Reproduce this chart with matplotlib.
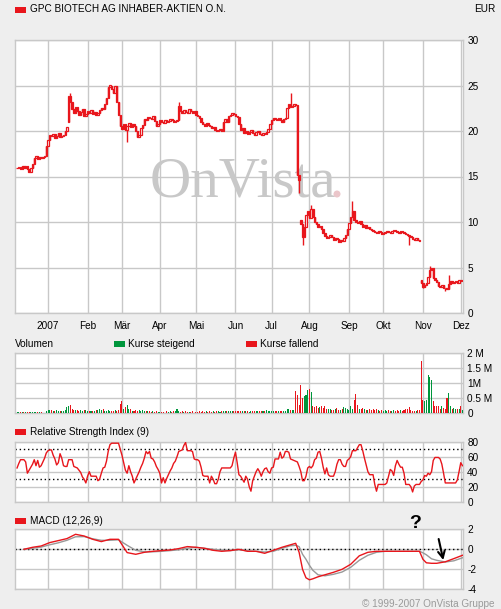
import numpy as np
import pandas as pd
import matplotlib
matplotlib.use("Agg")
import matplotlib.pyplot as plt
from matplotlib.patches import Rectangle, Ellipse

# =========================
# DATA
# =========================
# daily closes, EUR (Dec 2006 - Dec 2007)
close = [
    15.9, 16.0, 15.8, 16.1, 15.9, 16.2, 15.8, 15.5, 15.9,
    16.4, 17.0, 17.2, 16.9, 17.1, 17.0,
    17.1, 17.2,
    18.4, 19.0,
    19.6, 19.4, 19.7, 19.2, 19.5, 19.8, 19.3, 19.5, 19.6,
    20.0, 20.4,
    23.8, 23.2,
    22.4, 22.0, 22.6, 22.2, 21.8, 22.1, 22.4, 21.6, 21.9, 22.2,
    22.0, 22.3, 21.9, 22.1, 21.8, 22.0, 22.3, 22.5, 22.4,
    23.0, 23.6,
    24.8, 25.0, 24.6, 24.2, 24.9,
    23.2, 21.8, 20.6,
    20.2, 20.8, 20.1,
    20.6, 20.9, 20.4, 20.8, 20.5, 20.0, 19.3, 19.6, 20.3, 20.7,
    21.3, 21.2, 21.5, 21.4, 21.3, 21.6, 21.1, 20.5, 20.8, 21.2,
    21.0, 20.9, 21.2, 21.0, 21.1, 21.3, 21.2, 21.0, 21.1, 21.2,
    22.8, 22.2, 22.0, 22.3, 22.1, 22.0, 22.4, 22.2, 22.0, 22.2, 21.8, 21.6,
    21.4, 21.0, 20.8, 20.6, 20.9, 20.7, 20.5, 20.3, 20.4, 20.1, 20.0,
    20.1, 20.2, 20.0,
    21.0, 21.3, 21.0, 21.6, 21.8, 22.0, 21.9, 21.7, 21.5,
    20.8, 20.1, 20.3,
    19.8, 20.0, 19.7, 19.9, 20.1, 19.8, 19.6, 19.9, 20.0, 19.7,
    19.6, 19.8, 19.7, 19.9,
    20.2, 20.8, 21.2, 21.4,
    21.3, 21.2, 21.4, 21.2, 21.0, 21.3, 21.4,
    22.5, 23.0, 22.6, 22.8,
    23.0, 22.9, 15.2,
    14.6,
    9.8, 8.4,
    9.5, 10.8, 11.2, 10.4, 11.4, 10.6,
    10.0, 9.8, 9.4, 9.6, 9.2,
    8.8, 8.5, 8.2, 8.3, 8.6, 8.4,
    8.0, 8.2, 8.1, 7.8, 8.0, 7.9,
    8.2, 8.6, 9.2, 9.9, 10.6, 11.2,
    10.2, 10.0, 9.9, 10.1, 9.8, 9.5, 9.7, 9.3, 9.5, 9.2,
    9.1, 9.0, 8.9, 8.8, 9.0, 8.9, 8.7, 8.8, 8.9, 9.0, 8.9, 8.8,
    9.0, 9.1, 9.0, 8.9, 8.8, 9.0, 8.9, 8.8, 8.7, 8.6, 8.5,
    8.3, 8.1, 8.0, 8.2, 8.0, 7.9,
    3.3, 2.9, 3.1, 3.3,
    4.0, 4.7, 5.0,
    3.9, 3.6, 3.4,
    3.0, 2.9, 3.1, 2.8, 2.7, 2.6,
    3.2, 3.5, 3.3,
    3.4, 3.5, 3.3, 3.6, 3.5, 3.6,
]
# opening gaps (otherwise open = previous close)
gap_open = {30: 21.0, 165: 10.2, 235: 3.6}
# notable wicks
wick_hi = {31: 24.2, 53: 24.0, 94: 23.2, 159: 24.2, 171: 11.9, 195: 12.3, 240: 5.2, 251: 4.2}
wick_lo = {64: 18.8, 164: 13.2, 166: 7.5, 228: 7.5, 236: 2.7, 249: 2.4}

# volume in millions
volume = [
    0.03, 0.03, 0.02, 0.04, 0.03, 0.02, 0.03, 0.04, 0.02, 0.03,
    0.03, 0.04, 0.02, 0.05, 0.03, 0.00, 0.00, 0.06, 0.11, 0.09,
    0.09, 0.07, 0.07, 0.11, 0.07, 0.07, 0.07, 0.06, 0.09, 0.19,
    0.24, 0.28, 0.13, 0.11, 0.11, 0.11, 0.06, 0.11, 0.06, 0.09,
    0.09, 0.07, 0.07, 0.07, 0.07, 0.07, 0.09, 0.09, 0.15, 0.11,
    0.13, 0.08, 0.07, 0.09, 0.07, 0.07, 0.06, 0.09, 0.07, 0.09,
    0.30, 0.39, 0.13, 0.20, 0.27, 0.13, 0.13, 0.08, 0.08, 0.10,
    0.07, 0.09, 0.08, 0.10, 0.07, 0.08, 0.06, 0.07, 0.05, 0.06,
    0.05, 0.06, 0.04, 0.05, 0.04, 0.05, 0.00, 0.06, 0.04, 0.06,
    0.05, 0.07, 0.06, 0.12, 0.07, 0.05, 0.06, 0.05, 0.06, 0.05,
    0.04, 0.05, 0.06, 0.00, 0.05, 0.05, 0.06, 0.05, 0.06, 0.05,
    0.06, 0.05, 0.07, 0.05, 0.06, 0.05, 0.08, 0.06, 0.05, 0.06,
    0.06, 0.07, 0.06, 0.08, 0.07, 0.06, 0.06, 0.07, 0.06, 0.07,
    0.06, 0.08, 0.06, 0.07, 0.06, 0.05, 0.06, 0.07, 0.08, 0.06,
    0.07, 0.06, 0.08, 0.06, 0.07, 0.09, 0.06, 0.07, 0.08, 0.07,
    0.06, 0.07, 0.06, 0.07, 0.08, 0.07, 0.08, 0.12, 0.13, 0.10,
    0.10, 0.10, 0.72, 0.60, 0.28, 0.94, 0.50, 0.58, 0.60, 0.78,
    0.80, 0.70, 0.25, 0.20, 0.22, 0.18, 0.20, 0.22, 0.17, 0.23,
    0.12, 0.12, 0.12, 0.10, 0.10, 0.12, 0.16, 0.10, 0.10, 0.12,
    0.20, 0.18, 0.13, 0.10, 0.24, 0.12, 0.44, 0.64, 0.28, 0.12,
    0.12, 0.18, 0.12, 0.10, 0.10, 0.13, 0.10, 0.14, 0.10, 0.12,
    0.10, 0.08, 0.10, 0.07, 0.09, 0.08, 0.10, 0.07, 0.08, 0.09,
    0.07, 0.09, 0.08, 0.10, 0.07, 0.10, 0.12, 0.12, 0.20, 0.09,
    0.07, 0.08, 0.08, 0.09, 0.10, 1.74, 0.44, 0.41, 0.44, 1.28,
    1.21, 1.10, 0.41, 0.25, 0.25, 0.25, 0.12, 0.25, 0.17, 0.15,
    0.50, 0.68, 0.22, 0.15, 0.18, 0.12, 0.12, 0.12, 0.22, 0.10,
]

rsi = [
    45, 51, 56, 56, 56, 53, 38, 42, 46, 50,
    56, 48, 55, 46, 48, 53, 58, 65, 68, 69,
    69, 62, 57, 49, 52, 64, 58, 48, 47, 47,
    56, 56, 56, 47, 46, 45, 42, 39, 33, 30,
    25, 34, 40, 34, 34, 34, 34, 28, 30, 38,
    45, 46, 54, 67, 76, 78, 78, 78, 78, 78,
    70, 62, 52, 42, 38, 48, 40, 34, 25, 30,
    35, 40, 46, 51, 58, 67, 64, 67, 58, 57,
    53, 47, 43, 38, 25, 32, 25, 31, 36, 41,
    45, 51, 54, 60, 67, 68, 69, 75, 79, 68,
    68, 68, 67, 57, 56, 56, 54, 46, 35, 34,
    34, 34, 25, 34, 30, 24, 24, 30, 40, 45,
    45, 45, 45, 45, 45, 48, 58, 66, 52, 36,
    34, 30, 26, 34, 30, 20, 14, 28, 34, 40,
    44, 40, 34, 40, 44, 45, 40, 38, 45, 46,
    57, 57, 57, 66, 58, 60, 67, 67, 66, 57,
    56, 55, 54, 53, 47, 40, 28, 28, 34, 45,
    47, 45, 48, 56, 58, 66, 67, 58, 46, 37,
    45, 36, 34, 34, 34, 40, 50, 56, 56, 50,
    47, 47, 55, 57, 60, 68, 68, 68, 72, 76,
    76, 68, 58, 49, 40, 36, 36, 36, 23, 14,
    23, 23, 23, 23, 23, 25, 34, 43, 41, 35,
    48, 55, 50, 46, 46, 38, 23, 23, 23, 20,
    13, 21, 23, 23, 23, 27, 29, 35, 34, 38,
    36, 40, 55, 59, 59, 59, 57, 50, 38, 25,
    25, 25, 25, 25, 25, 25, 29, 40, 52, 48,
]

macd_day = [4, 9, 14, 19, 24, 29, 34, 39, 44, 49, 54, 59, 64, 69, 74, 79, 84, 89, 94, 99,
            104, 109, 114, 119, 124, 129, 134, 139, 144, 149, 154, 159, 162, 164, 166, 168,
            170, 172, 175, 179, 184, 189, 194, 199, 204, 209, 214, 219, 224, 229, 234, 236,
            238, 241, 244, 249, 254, 259]
macd = [0.0, 0.2, 0.33, 0.67, 0.87, 1.07, 1.5, 1.33, 1.0, 0.77, 1.0, 1.0, -0.33, -0.5, -0.3,
        -0.2, -0.13, -0.07, 0.07, 0.27, 0.2, 0.1, -0.1, -0.2, -0.13, 0.0, -0.2, -0.2, -0.4,
        -0.1, 0.2, 0.45, 0.6, -0.3, -2.0, -2.85, -3.05, -2.95, -2.75, -2.55, -2.3, -2.0, -1.5,
        -0.65, -0.3, -0.2, -0.2, -0.2, -0.2, -0.2, -0.2, -1.0, -1.35, -1.4, -1.4, -1.25,
        -0.93, -0.6]
signal = [0.0, 0.1, 0.22, 0.45, 0.65, 0.9, 1.25, 1.27, 1.05, 0.9, 0.9, 0.95, 0.4, -0.1, -0.25,
          -0.25, -0.2, -0.13, -0.05, 0.1, 0.2, 0.1, 0.0, -0.1, -0.13, -0.05, -0.15, -0.2, -0.27,
          -0.2, 0.1, 0.35, 0.4, 0.27, -0.5, -1.0, -1.6, -2.1, -2.55, -2.65, -2.5, -2.27, -1.8,
          -1.1, -0.6, -0.3, -0.2, -0.2, -0.2, -0.2, -0.2, -0.35, -0.55, -0.95, -1.1, -1.27,
          -1.15, -0.85]

month_labels = ["2007", "Feb", "Mär", "Apr", "Mai", "Jun", "Jul", "Aug", "Sep", "Okt", "Nov", "Dez"]
price_ticks = [0, 5, 10, 15, 20, 25, 30]
vol_ticks = [0, 0.5, 1, 1.5, 2]
vol_tick_labels = ["0", "0.5 M", "1M", "1.5 M", "2 M"]

# =========================
# PREP
# =========================
RED = "#E8161C"
GREEN = "#00963C"
GRID = "#C8C8C8"
BG = "#EEEEEE"
W, H = 501, 609
FS = 7.2

plt.rcParams["font.family"] = ["Liberation Sans", "DejaVu Sans"]
plt.rcParams["axes.unicode_minus"] = False

n = len(close)
dates = pd.bdate_range(end="2007-12-04", periods=n)
days = np.arange(n)
month_pos = [i for i in range(1, n) if dates[i].month != dates[i - 1].month]

close = np.array(close)
opens = np.r_[close[0], close[:-1]]
for k, v in gap_open.items():
    opens[k] = v
up = close >= opens
body_lo = np.minimum(opens, close)
body_hi = np.maximum(opens, close)
lo = body_lo.copy()
hi = body_hi.copy()
for k, v in wick_hi.items():
    hi[k] = max(hi[k], v)
for k, v in wick_lo.items():
    lo[k] = min(lo[k], v)


def box(y_top, y_bot):
    # figure-fraction rectangle from pixel rows
    return [15 / W, 1 - y_bot / H, 448 / W, (y_bot - y_top) / H]


def style(ax):
    ax.set_facecolor("white")
    for s in ax.spines.values():
        s.set_color(GRID)
        s.set_linewidth(1)
    ax.yaxis.tick_right()
    ax.tick_params(length=0, labelsize=FS, pad=3)
    ax.set_xlim(-1.2, 259.3)
    ax.set_xticks(month_pos)
    ax.grid(True, color=GRID, lw=1)
    ax.set_axisbelow(True)


def px(x, y):
    return x / W, 1 - y / H


fig = plt.figure(figsize=(W / 100, H / 100), dpi=100, facecolor=BG)

# =========================
# PRICE
# =========================
ax = fig.add_axes(box(40, 313))
style(ax)
ax.vlines(days, lo, hi, color=RED, lw=1, zorder=2)
ax.bar(days, body_hi - body_lo, bottom=body_lo, width=0.8,
       color=np.where(up, "white", RED), edgecolor=RED, linewidth=0.9, zorder=3)
ax.set_ylim(0, 30)
ax.set_yticks(price_ticks)
ax.set_xticklabels(month_labels)
ax.tick_params(axis="x", pad=6)
# watermark
ax.text(150 / W, 1 - 197 / H, "OnVista", transform=fig.transFigure, family="Liberation Serif",
        fontsize=41, color="#C8C8C8", ha="left", va="baseline", zorder=1)
ax.add_artist(Ellipse(px(337, 194), 7 / W, 7 / H, transform=fig.transFigure,
                      color="#EBC6CA", lw=0, zorder=1))

# =========================
# VOLUME
# =========================
axv = fig.add_axes(box(353, 413))
style(axv)
axv.bar(days, volume, width=0.6, color=np.where(up, GREEN, RED), zorder=3)
axv.set_ylim(0, 2)
axv.set_yticks(vol_ticks)
axv.set_yticklabels(vol_tick_labels)
axv.set_xticklabels([])

# =========================
# RSI
# =========================
axr = fig.add_axes(box(441.7, 501.7))
style(axr)
axr.plot(days, rsi, color=RED, lw=1, zorder=3)
axr.set_ylim(0, 80)
axr.set_yticks([0, 20, 40, 60, 80])
for lvl in (30, 70):
    axr.axhline(lvl, color="black", lw=1, ls=(0, (1, 2)), zorder=2)
axr.set_xticklabels([])

# =========================
# MACD
# =========================
axm = fig.add_axes(box(529.3, 589.3))
style(axm)
axm.plot(macd_day, signal, color="#999999", lw=1, zorder=3)
axm.plot(macd_day, macd, color=RED, lw=1, zorder=4)
axm.axhline(0, color="black", lw=1, ls=(0, (1, 2)), zorder=2)
axm.set_ylim(-4, 2)
axm.set_yticks([-4, -2, 0, 2])
axm.set_xticklabels([])
# hand-drawn marks
axm.text(231.5, 2.6, "?", fontsize=14, fontweight="bold", ha="center", va="center",
         color="black", clip_on=False)
axm.annotate("", xy=(248.2, -1.35), xytext=(244.8, 1.3),
             arrowprops=dict(arrowstyle="->", color="black", lw=1.5, mutation_scale=12),
             annotation_clip=False)

# =========================
# TITLES / LEGENDS
# =========================
def swatch(x, y, color):
    fig.add_artist(Rectangle(px(x, y + 3), 11 / W, 6 / H, transform=fig.transFigure,
                             color=color, lw=0))


swatch(15, 9.5, RED)
fig.text(*px(30, 9.5), "GPC BIOTECH AG INHABER-AKTIEN O.N.", fontsize=FS, va="center")
fig.text(*px(495, 9.5), "EUR", fontsize=FS, va="center", ha="right")

fig.text(*px(15, 344), "Volumen", fontsize=FS, va="center")
swatch(114, 344, GREEN)
fig.text(*px(128, 344), "Kurse steigend", fontsize=FS, va="center")
swatch(246, 344, RED)
fig.text(*px(260, 344), "Kurse fallend", fontsize=FS, va="center")

swatch(15, 432, RED)
fig.text(*px(30, 432), "Relative Strength Index (9)", fontsize=FS, va="center")
swatch(15, 521, RED)
fig.text(*px(30, 521), "MACD (12,26,9)", fontsize=FS, va="center")

fig.text(*px(495, 604), "© 1999-2007 OnVista Gruppe", fontsize=FS, va="center", ha="right",
         color="#9A9A9A")

fig.savefig("out.png", dpi=100, facecolor=BG)
